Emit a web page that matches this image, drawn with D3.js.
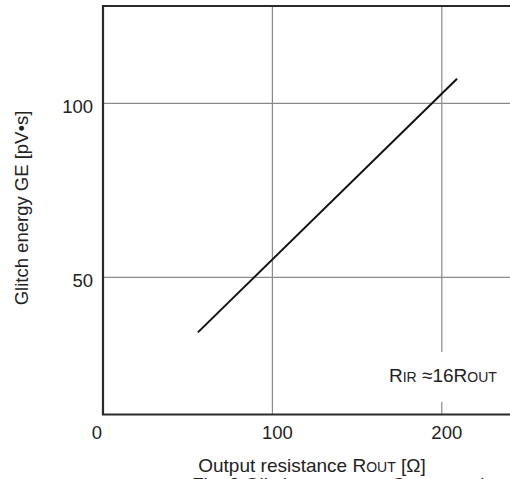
<!DOCTYPE html>
<html>
<head>
<meta charset="utf-8">
<script src="https://cdn.jsdelivr.net/npm/d3@7"></script>
<style>
  body { margin: 0; background: #fff; }
  svg { display: block; font-family: "Liberation Sans", Arial, sans-serif; }
</style>
</head>
<body>
<div class="chart"></div>
<script>
// data
var rOut = [56, 209];            // output resistance [ohm]
var glitch = [34.2, 107.1];      // glitch energy [pV*s]
var xTicks = [0, 100, 200];
var yTicks = [50, 100];

var width = 510, height = 479;
var svg = d3.select(".chart").append("svg")
    .attr("width", width)
    .attr("height", height);

var x = d3.scaleLinear().domain([0, 250]).range([103, 526.5]);
var y = d3.scaleLinear().domain([10.6, 128]).range([414.5, 6]);

// grid
svg.append("g").selectAll("line.vx")
    .data(xTicks.filter(function(d) { return d > 0; }))
    .enter().append("line")
    .attr("x1", function(d) { return x(d); })
    .attr("x2", function(d) { return x(d); })
    .attr("y1", y(128)).attr("y2", y(10.6))
    .attr("stroke", "#8a8a8a").attr("stroke-width", 1.2);

svg.append("g").selectAll("line.hy")
    .data(yTicks)
    .enter().append("line")
    .attr("x1", x(0)).attr("x2", width + 20)
    .attr("y1", function(d) { return y(d); })
    .attr("y2", function(d) { return y(d); })
    .attr("stroke", "#8a8a8a").attr("stroke-width", 1.2);

// annotation with white background
var note = svg.append("g");
note.append("rect")
    .attr("x", 386).attr("y", 352).attr("width", 120).attr("height", 50)
    .attr("fill", "#fff");
var nt = note.append("text")
    .attr("x", 389).attr("y", 382)
    .attr("font-size", 19).attr("fill", "#222");
nt.append("tspan").text("R");
nt.append("tspan").attr("font-size", 14).text("IR");
nt.append("tspan").text(" \u224816R");
nt.append("tspan").attr("font-size", 14).text("OUT");

// curve
var line = d3.line()
    .x(function(d) { return x(d[0]); })
    .y(function(d) { return y(d[1]); });
svg.append("path")
    .datum(d3.zip(rOut, glitch))
    .attr("d", line)
    .attr("fill", "none")
    .attr("stroke", "#111")
    .attr("stroke-width", 2);

// frame
svg.append("path")
    .attr("d", "M" + (width + 20) + "," + y(128) + "H" + x(0) + "V" + y(10.6) + "H" + (width + 20))
    .attr("fill", "none")
    .attr("stroke", "#2a2a2a")
    .attr("stroke-width", 2.2);

// tick labels
svg.append("g").selectAll("text")
    .data(xTicks)
    .enter().append("text")
    .attr("x", function(d) { return d === 0 ? x(d) - 6 : x(d) + 5; })
    .attr("y", 439)
    .attr("text-anchor", "middle")
    .attr("font-size", 18.5)
    .attr("fill", "#222")
    .text(function(d) { return d; });

svg.append("g").selectAll("text")
    .data(yTicks)
    .enter().append("text")
    .attr("x", 93)
    .attr("y", function(d) { return y(d) + 9.5; })
    .attr("text-anchor", "end")
    .attr("font-size", 18.5)
    .attr("fill", "#222")
    .text(function(d) { return d; });

// axis titles
var xt = svg.append("text")
    .attr("x", 312).attr("y", 472)
    .attr("text-anchor", "middle")
    .attr("font-size", 19).attr("fill", "#222");
xt.append("tspan").text("Output resistance R");
xt.append("tspan").attr("font-size", 14).text("OUT");
xt.append("tspan").text(" [\u03a9]");

svg.append("text")
    .attr("transform", "translate(28,208) rotate(-90)")
    .attr("text-anchor", "middle")
    .attr("font-size", 18.5).attr("fill", "#222")
    .text("Glitch energy GE [pV\u2022s]");

// caption, mostly cut off at the bottom (as in the reference)
svg.append("text")
    .attr("x", 192).attr("y", 490.5)
    .attr("font-size", 19).attr("fill", "#222")
    .text("Fig. 3  Glitch energy vs. Output resistance");
</script>
</body>
</html>
